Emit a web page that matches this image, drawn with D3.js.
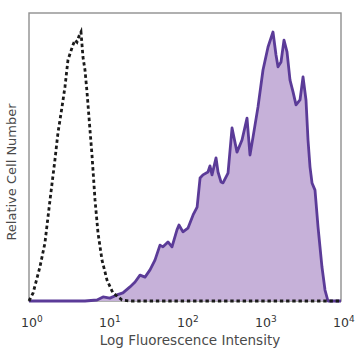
<!DOCTYPE html>
<html>
<head>
<meta charset="utf-8">
<script src="https://cdn.jsdelivr.net/npm/d3@7"></script>
<style>
  html, body { margin: 0; padding: 0; background: #fff; }
  svg { display: block; }
</style>
</head>
<body>
<svg id="chart" width="358" height="358"></svg>
<script>
// Isotype control (dashed) — intensity and relative count
const isoIntensity = [1, 1.13, 1.38, 1.60, 1.86, 2.15, 2.35, 2.65, 2.89, 3.16, 3.66, 3.89, 4.12, 4.38, 4.64, 4.92, 5.22, 5.54, 6.05, 6.42, 7.02, 7.67, 8.63, 10.0, 11.9, 15.6, 19.7, 10000];
const isoCount     = [0, 2.8, 11.8, 20.1, 35.1, 49.0, 58.3, 67.4, 74.3, 83.7, 88.9, 90.6, 89.9, 92.0, 93.4, 84.7, 80.2, 72.6, 59.4, 50.7, 35.1, 23.6, 14.2, 7.3, 2.8, 0.35, 0, 0];

// Stained sample (purple filled)
const stainIntensity = [1, 5.22, 7.45, 8.89, 10.9, 13.4, 16.0, 19.7, 22.9, 26.5, 30.7, 35.6, 41.2, 47.8, 52.2, 60.5, 68.1, 78.9, 83.7, 94.2, 109, 127, 143, 156, 170, 197, 209, 222, 250, 265, 290, 307, 356, 401, 464, 538, 624, 681, 745, 863, 1000, 1160, 1343, 1468, 1557, 1702, 1858, 2032, 2220, 2427, 2650, 2981, 3260, 3558, 3777, 4008, 4250, 4642, 5074, 5703, 6237, 6808, 10000];
const stainCount     = [0, 0, 0.35, 1.4, 1.0, 2.1, 2.8, 4.9, 6.6, 9.0, 8.3, 10.8, 14.2, 19.4, 18.8, 20.5, 18.8, 24.7, 26.4, 24.0, 25.3, 29.9, 32.6, 42.7, 43.8, 44.8, 46.9, 43.8, 49.7, 44.8, 41.3, 41.0, 44.4, 60.1, 51.7, 55.9, 63.5, 50.7, 56.9, 67.4, 80.2, 88.2, 93.4, 85.4, 81.3, 83.0, 90.6, 86.5, 76.7, 72.6, 68.1, 69.8, 77.8, 69.8, 55.9, 46.5, 41.0, 38.5, 25.7, 11.8, 3.8, 0, 0];

const tickValues = [1, 10, 100, 1000, 10000];
const tickExponents = ["0", "1", "2", "3", "4"];
const xTitle = "Log Fluorescence Intensity";
const yTitle = "Relative Cell Number";

(function () {
const svg = d3.select("#chart");
const pL = 29, pR = 341, pT = 13, pB = 301;

const x = d3.scaleLog().domain([1, 10000]).range([pL, pR]);
const y = d3.scaleLinear().domain([0, 100]).range([pB, pT]);

const stain = stainIntensity.map((v, i) => [v, stainCount[i]]);
const iso = isoIntensity.map((v, i) => [v, isoCount[i]]);

// frame
svg.append("rect")
  .attr("x", pL).attr("y", pT)
  .attr("width", pR - pL).attr("height", pB - pT)
  .attr("fill", "none").attr("stroke", "#8f8f8f").attr("stroke-width", 1.4);

const area = d3.area().x(d => x(d[0])).y0(y(0)).y1(d => y(d[1])).curve(d3.curveLinear);
const line = d3.line().x(d => x(d[0])).y(d => y(d[1])).curve(d3.curveLinear);

svg.append("path").datum(stain)
  .attr("d", area).attr("fill", "#c6b1d9");
svg.append("path").datum(stain)
  .attr("d", line).attr("fill", "none")
  .attr("stroke", "#5b3b98").attr("stroke-width", 2.8).attr("stroke-linejoin", "round");

svg.append("path").datum(iso)
  .attr("d", line).attr("fill", "none")
  .attr("stroke", "#1a1a1a").attr("stroke-width", 2.8)
  .attr("stroke-dasharray", "3.4,2.8");

// x axis
const axis = d3.axisBottom(x).tickValues(tickValues).tickSize(0).tickFormat("");
const gx = svg.append("g").attr("transform", `translate(0,${pB})`).call(axis);
gx.select(".domain").remove();
tickValues.forEach((v, i) => {
  const t = svg.append("text")
    .attr("x", x(v) - 8).attr("y", 327)
    .attr("font-family", "DejaVu Sans, sans-serif")
    .attr("font-size", 12.5).attr("fill", "#333");
  t.append("tspan").text("10");
  t.append("tspan").attr("dy", -5.5).attr("font-size", 9).text(tickExponents[i]);
});

svg.append("text")
  .attr("x", 190).attr("y", 345)
  .attr("text-anchor", "middle")
  .attr("font-family", "DejaVu Sans, sans-serif")
  .attr("font-size", 13.5).attr("fill", "#4a4a4a")
  .text(xTitle);

svg.append("text")
  .attr("transform", "translate(16,172) rotate(-90)")
  .attr("text-anchor", "middle")
  .attr("font-family", "DejaVu Sans, sans-serif")
  .attr("font-size", 13).attr("fill", "#4a4a4a")
  .text(yTitle);
})();
</script>
</body>
</html>
